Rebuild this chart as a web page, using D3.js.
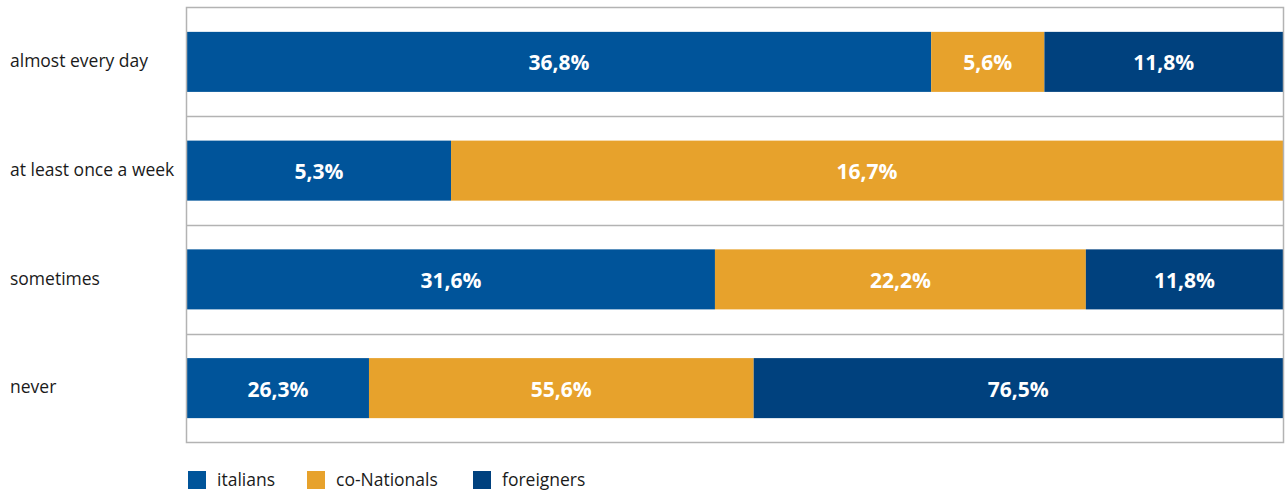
<!DOCTYPE html>
<html><head><meta charset="utf-8">
<script src="https://cdn.jsdelivr.net/npm/d3@7"></script>
<style>
html,body{margin:0;padding:0;background:#fff;}
svg{display:block;}
</style>
</head><body>
<svg id="chart" width="1285" height="495"></svg>
<script>
const categories = ["almost every day", "at least once a week", "sometimes", "never"];
const seriesNames = ["italians", "co-Nationals", "foreigners"];
const italians = [36.8, 5.3, 31.6, 26.3];
const coNationals = [5.6, 16.7, 22.2, 55.6];
const foreigners = [11.8, 0, 11.8, 76.5];
const colors = ["#00549A", "#E7A22C", "#00417E"];

const rows = categories.map((c, i) => ({cat: c, "italians": italians[i], "co-Nationals": coNationals[i], "foreigners": foreigners[i]}));

const svg = d3.select("#chart");
const m = {left: 186.5, right: 1283.5, top: 7.5, bottom: 442.5};

const x = d3.scaleLinear().domain([0, 1]).range([187, 1283]);
const y = d3.scaleBand().domain(categories).range([m.top, m.bottom]).paddingInner(0.448).paddingOuter(0.224);
const color = d3.scaleOrdinal().domain(seriesNames).range(colors);

const stack = d3.stack().keys(seriesNames).offset(d3.stackOffsetExpand);
const series = stack(rows);

// separators
const step = y.step();
svg.append("g").selectAll("line").data(categories.slice(1)).join("line")
  .attr("x1", m.left).attr("x2", m.right)
  .attr("y1", d => Math.round(y(d) - (step - y.bandwidth()) / 2) + 0.5)
  .attr("y2", d => Math.round(y(d) - (step - y.bandwidth()) / 2) + 0.5)
  .attr("stroke", "#b3b3b3").attr("stroke-width", 1.5);

const g = svg.append("g");
series.forEach(s => {
  g.append("g").attr("fill", color(s.key)).selectAll("rect").data(s).join("rect")
    .attr("x", d => x(d[0])).attr("width", d => x(d[1]) - x(d[0]))
    .attr("y", d => y(d.data.cat)).attr("height", y.bandwidth());
});

// value labels
const fmt = v => v.toFixed(1).replace(".", ",") + "%";
series.forEach(s => {
  g.append("g").selectAll("text").data(s.filter(d => d.data[s.key] > 0)).join("text")
    .attr("x", d => (x(d[0]) + x(d[1])) / 2)
    .attr("y", d => y(d.data.cat) + y.bandwidth() / 2 + 1)
    .attr("dy", "0.36em")
    .attr("text-anchor", "middle")
    .attr("fill", "#fff")
    .style("font-family", "'Open Sans', sans-serif").style("font-weight", "bold").style("font-size", "21px")
    .text(d => fmt(d.data[s.key]));
});

// frame
svg.append("rect").attr("x", m.left).attr("y", m.top)
  .attr("width", m.right - m.left).attr("height", m.bottom - m.top)
  .attr("fill", "none").attr("stroke", "#b3b3b3").attr("stroke-width", 1.5);

// category labels
svg.append("g").selectAll("text").data(categories).join("text")
  .attr("x", 10).attr("y", d => y(d) + y.bandwidth() / 2)
  .attr("dy", "0.3em")
  .attr("fill", "#1a1a1a")
  .style("font-family", "'Open Sans', sans-serif").style("font-size", "17.5px")
  .text(d => d);

// legend
const legX = [188, 307, 473];
const leg = svg.append("g").selectAll("g").data(seriesNames).join("g")
  .attr("transform", (d, i) => `translate(${legX[i]},471)`);
leg.append("rect").attr("width", 18).attr("height", 18).attr("fill", d => color(d));
leg.append("text").attr("x", 29).attr("y", 9).attr("dy", "0.36em")
  .attr("fill", "#1a1a1a")
  .style("font-family", "'Open Sans', sans-serif").style("font-size", "17.5px")
  .text(d => d);
</script>
</body></html>
